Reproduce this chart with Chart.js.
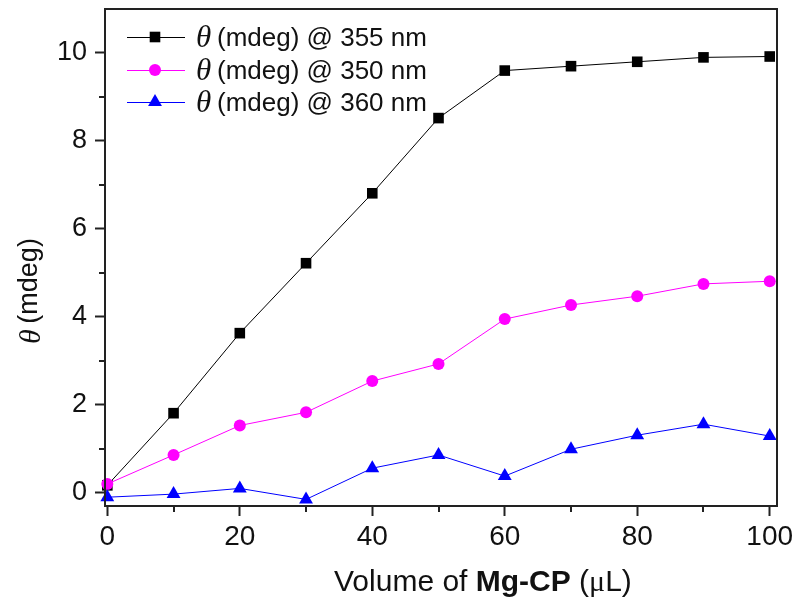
<!DOCTYPE html>
<html>
<head>
<meta charset="utf-8">
<script src="https://cdn.jsdelivr.net/npm/chart.js@4.4.1/dist/chart.umd.min.js"></script>
<style>
  html, body { margin: 0; padding: 0; background: #fff; }
  #wrap { width: 798px; height: 606px; }
</style>
</head>
<body>
<div id="wrap"><canvas id="cdChart" width="798" height="606"></canvas></div>
<script>
// data
const volumes = [0, 10, 20, 30, 40, 50, 60, 70, 80, 90, 100]
const theta355 = [0.17, 1.81, 3.63, 5.22, 6.81, 8.52, 9.6, 9.7, 9.8, 9.9, 9.92]
const theta350 = [0.2, 0.86, 1.53, 1.83, 2.54, 2.93, 3.95, 4.27, 4.47, 4.75, 4.81]
const theta360 = [-0.1, -0.03, 0.1, -0.15, 0.56, 0.86, 0.38, 0.99, 1.31, 1.56, 1.29]
const seriesNames = ['(mdeg) @ 355 nm', '(mdeg) @ 350 nm', '(mdeg) @ 360 nm']

const xTicks = [0, 20, 40, 60, 80, 100]
const xMinor = [10, 30, 50, 70, 90]
const yTicks = [0, 2, 4, 6, 8, 10]
const yMinor = [1, 3, 5, 7, 9]

const sansFont = '"Liberation Sans", Arial, sans-serif'
const serifFont = '"Liberation Serif", "Times New Roman", serif'

function series(values, color, style, radius, order) {
  return {
    data: volumes.map((v, i) => ({ x: v, y: values[i] })),
    borderColor: color,
    backgroundColor: color,
    borderWidth: 1,
    pointStyle: style,
    pointRadius: radius,
    pointHoverRadius: radius,
    pointBorderWidth: 0,
    clip: false,
    order: order
  }
}

const datasets = [
  series(theta355, '#000000', 'rect', 7.5, 3),
  series(theta350, '#ff00ff', 'circle', 6, 2),
  series(theta360, '#0000ff', 'triangle', 8, 1)
]

// frame, minor ticks, legend and axis titles
const decorations = {
  id: 'decorations',
  afterDraw(chart) {
    const ctx = chart.ctx
    const a = chart.chartArea
    const xs = chart.scales.x
    const ys = chart.scales.y
    ctx.save()
    ctx.strokeStyle = '#222'
    ctx.lineWidth = 2
    ctx.strokeRect(a.left, a.top, a.right - a.left, a.bottom - a.top)

    ctx.beginPath()
    yMinor.forEach(v => {
      const p = Math.round(ys.getPixelForValue(v))
      ctx.moveTo(a.left - 6, p)
      ctx.lineTo(a.left, p)
    })
    xMinor.forEach(v => {
      const p = Math.round(xs.getPixelForValue(v))
      ctx.moveTo(p, a.bottom)
      ctx.lineTo(p, a.bottom + 6)
    })
    ctx.stroke()

    // legend
    const rows = [37, 70, 102]
    datasets.forEach((ds, i) => {
      const y = rows[i]
      ctx.strokeStyle = ds.borderColor
      ctx.lineWidth = 1
      ctx.beginPath()
      ctx.moveTo(127, y + 0.5)
      ctx.lineTo(185, y + 0.5)
      ctx.stroke()
      ctx.fillStyle = ds.backgroundColor
      Chart.helpers.drawPoint(ctx, { pointStyle: ds.pointStyle, radius: ds.pointRadius, borderWidth: 0 }, 155, y)
      ctx.fillStyle = '#111'
      ctx.textBaseline = 'middle'
      ctx.textAlign = 'left'
      ctx.font = 'italic 31px ' + serifFont
      ctx.fillText('\u03b8', 196, y + 2)
      ctx.font = '26px ' + sansFont
      ctx.fillText(seriesNames[i], 217, y + 2)
    })

    // x axis title with bold part
    const parts = [
      ['30px ' + sansFont, 'Volume of '],
      ['bold 30px ' + sansFont, 'Mg-CP'],
      ['30px ' + sansFont, ' ('],
      ['30px ' + serifFont, '\u03bc'],
      ['30px ' + sansFont, 'L)']
    ]
    let x = 334
    ctx.fillStyle = '#111'
    ctx.textBaseline = 'middle'
    parts.forEach(p => {
      ctx.font = p[0]
      ctx.fillText(p[1], x, 583)
      x += ctx.measureText(p[1]).width
    })

    // y axis title
    ctx.translate(30, 290)
    ctx.rotate(-Math.PI / 2)
    ctx.textAlign = 'left'
    ctx.font = 'italic 30px ' + serifFont
    const tw = ctx.measureText('\u03b8').width
    ctx.font = '27px ' + sansFont
    const rw = ctx.measureText(' (mdeg)').width
    let sx = -(tw + rw) / 2
    ctx.font = 'italic 30px ' + serifFont
    ctx.fillText('\u03b8', sx, 2)
    ctx.font = '27px ' + sansFont
    ctx.fillText(' (mdeg)', sx + tw - 2, 0)
    ctx.restore()
  }
}

window.addEventListener('load', function () {
  const ctx = document.getElementById('cdChart').getContext('2d')
  window.cdChart = new Chart(ctx, {
    type: 'line',
    data: { datasets: datasets },
    options: {
      responsive: false,
      animation: false,
      events: [],
      layout: { padding: { top: 9, right: 21, left: 0, bottom: 0 } },
      plugins: { legend: { display: false }, tooltip: { enabled: false } },
      scales: {
        x: {
          type: 'linear',
          min: -0.35,
          max: 101.1,
          afterBuildTicks: s => { s.ticks = xTicks.map(v => ({ value: v })) },
          afterFit: s => { s.height = 100; s.paddingLeft = 0; s.paddingRight = 0 },
          grid: { drawOnChartArea: false, tickLength: 10, tickWidth: 2, tickColor: '#222' },
          border: { display: false },
          ticks: { color: '#111', font: { family: sansFont, size: 28 }, padding: 4, maxRotation: 0 }
        },
        y: {
          min: -0.3,
          max: 11,
          afterBuildTicks: s => { s.ticks = yTicks.map(v => ({ value: v })) },
          afterFit: s => { s.width = 105; s.paddingTop = 0; s.paddingBottom = 0 },
          grid: { drawOnChartArea: false, tickLength: 10, tickWidth: 2, tickColor: '#222' },
          border: { display: false },
          ticks: { color: '#111', font: { family: sansFont, size: 27 }, padding: 8 }
        }
      }
    },
    plugins: [decorations]
  })
})
</script>
</body>
</html>
